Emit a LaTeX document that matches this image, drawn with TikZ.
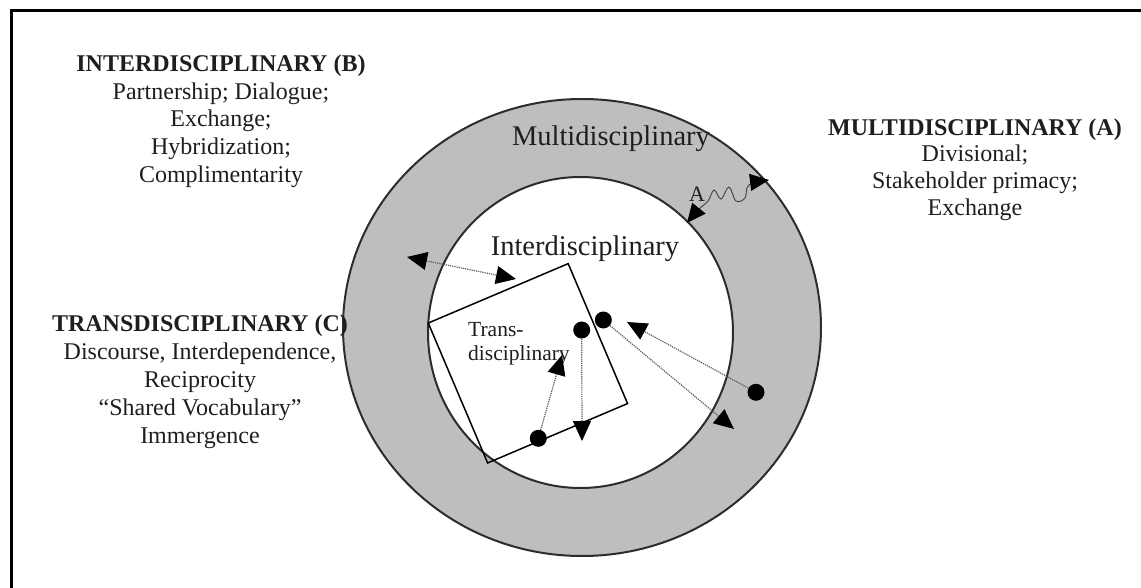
\documentclass[tikz,border=0pt]{standalone}
\usepackage{fontspec}
\setmainfont{Liberation Serif}
\usetikzlibrary{arrows.meta}
\definecolor{ringgray}{RGB}{190,190,190}
\definecolor{edgegray}{RGB}{45,45,45}
\definecolor{txt}{RGB}{30,30,30}
\begin{document}
\begin{tikzpicture}[x=1pt,y=-1pt,
  flowline/.style={densely dotted, line width=1.2pt, draw=black!65,
    -{Triangle[length=20pt,width=18pt,color=black]}},
  flowboth/.style={densely dotted, line width=1.2pt, draw=black!65,
    {Triangle[length=20pt,width=18pt,color=black]}-{Triangle[length=20pt,width=18pt,color=black]}},
  squig/.style={line width=0.9pt, draw=black!75,
    {Triangle[length=19pt,width=17pt,color=black]}-{Triangle[length=19pt,width=17pt,color=black]}},
  dot/.style={circle, fill=black, inner sep=0pt, minimum size=17pt},
  blocktext/.style={align=center, inner sep=0pt, anchor=north, text=txt},
  ringlabel/.style={font=\fontsize{28.5}{30}\selectfont, inner sep=0pt, anchor=base, text=txt},
]
\useasboundingbox (0,0) rectangle (1141,588);
% frame
\draw[line width=2.7pt] (11.3,588) -- (11.3,10.7) -- (1141,10.7);
% rings
\draw[line width=2pt, draw=edgegray, fill=ringgray] (582,327.5) ellipse [x radius=239pt, y radius=228.5pt];
\draw[line width=2pt, draw=edgegray, fill=white] (580.5,332.5) ellipse [x radius=152.5pt, y radius=155.5pt];
% rotated square
\node[draw, line width=1.5pt, rotate=23, minimum size=152pt, inner sep=0pt] (sq) at (527.9,363.3) {};
% labels in rings
\node[ringlabel] (multi) at (611,146) {Multidisciplinary};
\node[ringlabel] (inter) at (585,255) {Interdisciplinary};
\node[font=\fontsize{21.5}{23.5}\selectfont, align=left, anchor=north west, inner sep=0pt, text=txt] (trans) at (468,322.5) {Trans-\\disciplinary};
\node[font=\fontsize{22}{23}\selectfont, anchor=base, inner sep=0pt, text=txt] (alabel) at (697,202) {A};
% text blocks
\node[blocktext, font=\fontsize{24}{27.8}\selectfont] (blockB) at (221,54.4) {\textbf{INTERDISCIPLINARY (B)}\\Partnership; Dialogue;\\Exchange;\\Hybridization;\\Complimentarity};
\node[blocktext, font=\fontsize{24}{28}\selectfont] (blockC) at (200,314.3) {\textbf{TRANSDISCIPLINARY (C)}\\Discourse, Interdependence,\\Reciprocity\\“Shared Vocabulary”\\Immergence};
\node[blocktext, font=\fontsize{24}{26.8}\selectfont] (blockA) at (975,118.3) {\textbf{MULTIDISCIPLINARY (A)}\\Divisional;\\Stakeholder primacy;\\Exchange};
% dots
\node[dot] (d1) at (581.7,330) {};
\node[dot] (d2) at (603.3,320) {};
\node[dot] (d3) at (538.3,438.3) {};
\node[dot] (d4) at (756,392.3) {};
% arrow end points
\coordinate (e1) at (582,441);
\coordinate (e2) at (734,429);
\coordinate (e3) at (562,355);
\coordinate (e4) at (627,322);
\coordinate (f1) at (407,257);
\coordinate (f2) at (516,279);
\coordinate (s1) at (687,223);
\coordinate (s2) at (769,180);
% arrows
\draw[flowline] (d1) -- (e1);
\draw[flowline] (d2) -- (e2);
\draw[flowline] (d3) -- (e3);
\draw[flowline] (d4) -- (e4);
\draw[flowboth] (f1) -- (f2);
\draw[squig] plot[smooth, tension=0.6] coordinates {(s1) (698,210) (708,201) (714,190) (721,199) (729,187) (736,201) (745,198) (749,185) (s2)};
\end{tikzpicture}
\end{document}
